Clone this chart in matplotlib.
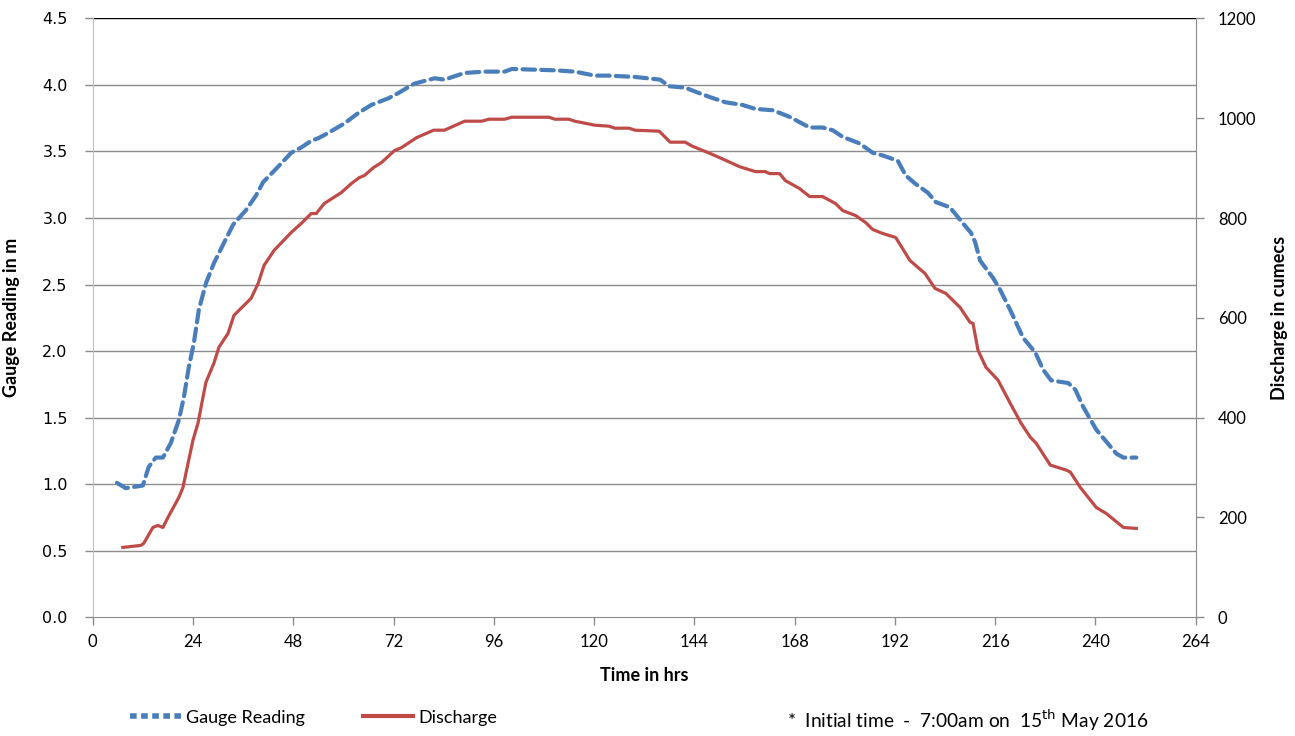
import matplotlib
matplotlib.use("Agg")
import matplotlib.pyplot as plt
from matplotlib.lines import Line2D

# gauge reading (m) vs time (hrs)
t_gauge = [5.8, 7.9, 12.0, 13.4, 15.1, 16.8, 18.7, 20.6, 21.8, 23.0, 24.2, 25.4,
           27.1, 29.0, 31.2, 33.6, 36.7, 39.1, 40.8, 43.9, 47.5, 49.9, 52.3, 54.0,
           56.4, 60.2, 63.6, 66.7, 70.8, 73.2, 77.0, 81.8, 84.2, 89.0, 93.8, 98.6,
           100.3, 110.6, 115.4, 120.2, 123.6, 129.8, 135.8, 138.0, 141.8, 144.2,
           147.6, 151.4, 155.5, 158.6, 162.7, 164.4, 166.8, 171.6, 174.7, 177.1,
           179.5, 183.6, 186.7, 189.1, 192.7, 194.6, 196.8, 199.9, 201.8, 205.2,
           208.3, 210.2, 211.2, 212.4, 215.5, 217.2, 219.6, 222.7, 225.6, 227.5,
           229.4, 233.5, 235.2, 237.1, 240.2, 245.0, 246.7, 249.8]
gauge = [1.01, 0.97, 0.99, 1.13, 1.20, 1.20, 1.31, 1.48, 1.65, 1.88, 2.06, 2.31,
         2.51, 2.66, 2.80, 2.95, 3.06, 3.17, 3.27, 3.37, 3.49, 3.53, 3.58, 3.60,
         3.64, 3.71, 3.79, 3.85, 3.90, 3.94, 4.01, 4.05, 4.04, 4.09, 4.10, 4.10,
         4.12, 4.11, 4.10, 4.07, 4.07, 4.06, 4.04, 3.99, 3.98, 3.95, 3.91, 3.87,
         3.85, 3.82, 3.81, 3.79, 3.76, 3.68, 3.68, 3.66, 3.61, 3.56, 3.49, 3.47,
         3.43, 3.32, 3.26, 3.19, 3.12, 3.08, 2.96, 2.89, 2.82, 2.68, 2.55, 2.46,
         2.31, 2.10, 1.99, 1.86, 1.78, 1.76, 1.71, 1.58, 1.41, 1.23, 1.20, 1.20]

# discharge (cumecs) vs time (hrs)
t_dis = [7.2, 11.5, 12.2, 14.4, 15.6, 16.8, 18.0, 20.6, 21.6, 22.8, 24.0, 25.2,
         26.4, 27.1, 29.0, 30.2, 32.4, 33.8, 37.9, 39.6, 41.0, 43.4, 47.5, 49.9,
         52.3, 53.5, 55.4, 59.5, 61.9, 63.8, 65.0, 67.2, 69.1, 72.2, 73.9, 77.5,
         81.6, 84.2, 89.0, 93.1, 94.8, 98.6, 100.3, 109.2, 110.6, 114.0, 115.4,
         120.2, 123.6, 125.0, 128.4, 129.8, 135.6, 138.2, 141.8, 143.5, 147.6,
         151.4, 154.8, 158.6, 161.0, 162.0, 164.4, 165.8, 169.2, 171.6, 174.7,
         177.8, 179.5, 182.6, 185.0, 186.7, 189.1, 192.2, 195.6, 199.2, 201.6,
         204.2, 207.6, 210.0, 210.7, 211.9, 213.8, 216.7, 219.6, 222.2, 224.4,
         225.8, 229.2, 233.0, 234.0, 236.4, 240.2, 242.6, 246.7, 249.8]
discharge = [140, 144, 148, 180, 184, 180, 200, 240, 260, 308, 355, 389,
             441, 471, 509, 541, 569, 605, 639, 669, 705, 735, 771, 789,
             809, 809, 829, 851, 869, 881, 885, 901, 911, 935, 941, 961,
             976, 976, 994, 994, 998, 998, 1002, 1002, 998, 998, 994,
             986, 984, 980, 980, 976, 974, 952, 952, 944, 930,
             916, 903, 893, 893, 889, 889, 875, 859, 843, 843,
             829, 815, 805, 791, 777, 769, 761, 715, 689, 659,
             649, 621, 591, 589, 535, 501, 475, 429, 389, 361,
             349, 305, 295, 291, 260, 220, 208, 180, 178]

x_ticks = list(range(0, 265, 24))
left_ticks = [0.0, 0.5, 1.0, 1.5, 2.0, 2.5, 3.0, 3.5, 4.0, 4.5]
right_ticks = [0, 200, 400, 600, 800, 1000, 1200]

blue = "#4a7ebb"
red = "#be4b48"
grid_c = "#8c8c8c"
txt_font = ["Lato", "DejaVu Sans"]

fig = plt.figure(figsize=(12.95, 7.36), dpi=100)
ax = fig.add_axes([0.0716, 0.1613, 0.8517, 0.8137])
ax2 = ax.twinx()

ax.plot(t_gauge, gauge, color=blue, lw=3.0, dashes=(3.0, 1.5),
        dash_capstyle="round", zorder=3)
ax2.plot(t_dis, discharge, color=red, lw=2.3, zorder=3)

ax.set_xlim(0, 264)
ax.set_ylim(0, 4.5)
ax2.set_ylim(0, 1200)
ax.set_xticks(x_ticks)
ax.set_yticks(left_ticks)
ax.set_yticklabels([f"{v:.1f}" for v in left_ticks], fontsize=11.5, family="DejaVu Sans")
ax2.set_yticks(right_ticks)
ax2.set_yticklabels([str(v) for v in right_ticks], fontsize=12, family=txt_font)
ax.set_xticklabels([str(v) for v in x_ticks], fontsize=12, family=txt_font)

for v in left_ticks[1:]:
    ax.axhline(v, color=grid_c if v < 4.5 else "#000000", lw=1.0, zorder=1)

for s in ["top"]:
    ax.spines[s].set_visible(False)
    ax2.spines[s].set_visible(False)
ax.spines["left"].set_color("#c0c0c0")
ax.spines["bottom"].set_color(grid_c)
ax2.spines["right"].set_color(grid_c)
ax2.spines["left"].set_visible(False)
ax2.spines["bottom"].set_visible(False)
ax.spines["right"].set_visible(False)
ax.tick_params(axis="y", colors=grid_c, labelcolor="black", length=6, width=1, pad=12)
ax.tick_params(axis="x", colors=grid_c, labelcolor="black", length=6, width=1, pad=6)
ax2.tick_params(axis="y", colors=grid_c, labelcolor="black", length=6, width=1, pad=10)

ax.set_xlabel("Time in hrs", fontsize=13, fontweight="bold", family=txt_font, labelpad=12)
ax.set_ylabel("Gauge Reading in m", fontsize=13, fontweight="bold", family=txt_font)
ax2.set_ylabel("Discharge in cumecs", fontsize=13, fontweight="bold", family=txt_font)
ax.yaxis.set_label_coords(-0.066, 0.5)
ax2.yaxis.set_label_coords(1.068, 0.5)

handles = [Line2D([], [], color=blue, lw=4, dashes=(1.2, 0.8)),
           Line2D([], [], color=red, lw=3)]
fig.legend(handles, ["Gauge Reading", "Discharge"], loc="center left",
           bbox_to_anchor=(0.088, 0.025), ncol=2, frameon=False,
           prop={"family": txt_font, "size": 13}, handlelength=2.8,
           handletextpad=0.3, columnspacing=3.2)

fig.text(0.608, 0.021, r"*  Initial time  -  7:00am on  15$^{\rm th}$ May 2016",
         fontsize=13.8, family=txt_font, va="center")

fig.savefig("out.png", dpi=100)
